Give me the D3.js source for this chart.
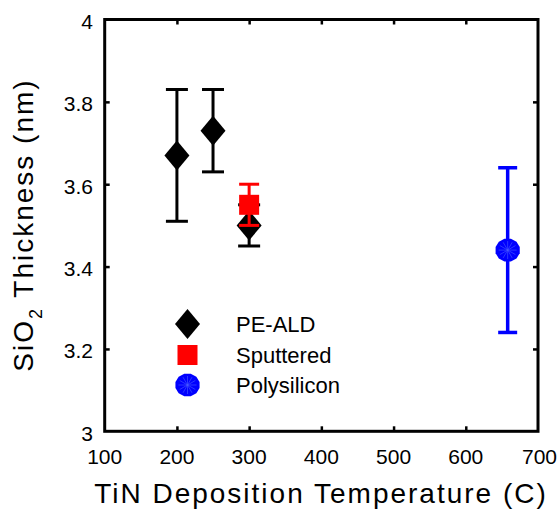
<!DOCTYPE html>
<html>
<head>
<meta charset="utf-8">
<script src="https://cdn.jsdelivr.net/npm/d3@7"></script>
<style>
    body { margin: 0; background: #fff; }
    svg { display: block; font-family: "Liberation Sans", Arial, sans-serif; }
</style>
</head>
<body>
<div id="chart"></div>
<script>
"use strict";

// PE-ALD TiN
var peTemp = [200, 250, 300];
var peThick = [3.67, 3.73, 3.50];
var peLow = [3.51, 3.63, 3.45];
var peHigh = [3.83, 3.83, 3.55];
// sputtered TiN
var spTemp = [300];
var spThick = [3.55];
var spLow = [3.50];
var spHigh = [3.60];
// polysilicon gate
var psTemp = [658];
var psThick = [3.44];
var psLow = [3.24];
var psHigh = [3.64];

var xTicks = [100, 200, 300, 400, 500, 600, 700];
var yTicks = [3, 3.2, 3.4, 3.6, 3.8, 4];
var legendLabels = ["PE-ALD", "Sputtered", "Polysilicon"];

var W = 558, H = 509;
var plot = {left: 104.7, right: 538, top: 19.5, bottom: 431.3};

var svg = d3.select("#chart").append("svg")
    .attr("width", W).attr("height", H);

var x = d3.scaleLinear().domain([100, 700]).range([plot.left, plot.right]);
var y = d3.scaleLinear().domain([3, 4]).range([plot.bottom, plot.top]);

function pts(t, v, lo, hi) {
    return t.map(function (d, i) {
        return {t: d, v: v[i], lo: lo[i], hi: hi[i]};
    });
}

var series = [
    {name: legendLabels[0], color: "#000000", shape: "diamond", cap: 22, sw: 3,
     data: pts(peTemp, peThick, peLow, peHigh)},
    {name: legendLabels[1], color: "#ff0000", shape: "square", cap: 20, sw: 3,
     data: pts(spTemp, spThick, spLow, spHigh)},
    {name: legendLabels[2], color: "#0000ff", shape: "circle", cap: 19, sw: 3.5,
     data: pts(psTemp, psThick, psLow, psHigh)}
];

// inner ticks, all four sides
var inner = function (axis) { return axis.tickSizeInner(-5).tickSizeOuter(0).tickPadding(0); };
var midX = xTicks.slice(1, -1), midY = yTicks.slice(1, -1);

var gx = svg.append("g").attr("transform", "translate(0," + plot.bottom + ")")
    .call(inner(d3.axisBottom(x).tickValues(midX).tickFormat("")));
var gx2 = svg.append("g").attr("transform", "translate(0," + plot.top + ")")
    .call(inner(d3.axisTop(x).tickValues(midX).tickFormat("")));
var gy = svg.append("g").attr("transform", "translate(" + plot.left + ",0)")
    .call(inner(d3.axisLeft(y).tickValues(midY).tickFormat("")));
var gy2 = svg.append("g").attr("transform", "translate(" + plot.right + ",0)")
    .call(inner(d3.axisRight(y).tickValues(midY).tickFormat("")));
[gx, gx2, gy, gy2].forEach(function (g) {
    g.select(".domain").remove();
    g.selectAll(".tick line").attr("stroke", "#000").attr("stroke-width", 2.5);
});

svg.append("rect")
    .attr("x", plot.left).attr("y", plot.top)
    .attr("width", plot.right - plot.left)
    .attr("height", plot.bottom - plot.top)
    .attr("fill", "none").attr("stroke", "#000").attr("stroke-width", 3);

// tick labels (last one pushed right, kept inside the page)
var lastX = xTicks[xTicks.length - 1];
svg.append("g").selectAll("text").data(xTicks).enter().append("text")
    .attr("x", function (d) { return d === lastX ? W - 1 : x(d); })
    .attr("y", 464)
    .attr("text-anchor", function (d) { return d === lastX ? "end" : "middle"; })
    .attr("font-size", 21)
    .text(function (d) { return String(d); });

svg.append("g").selectAll("text").data(yTicks).enter().append("text")
    .attr("x", 93)
    .attr("y", function (d) { return y(d); })
    .attr("dy", "0.45em")
    .attr("text-anchor", "end")
    .attr("font-size", 21)
    .text(function (d) { return String(d); });

// axis titles
svg.append("text")
    .attr("x", 321).attr("y", 503)
    .attr("text-anchor", "middle")
    .attr("font-size", 28)
    .attr("letter-spacing", 2)
    .text("TiN Deposition Temperature (C)");

var yt = svg.append("text")
    .attr("transform", "translate(33,225) rotate(-90)")
    .attr("text-anchor", "middle")
    .attr("font-size", 28)
    .attr("letter-spacing", 2);
yt.append("tspan").text("SiO");
yt.append("tspan").attr("font-size", 18).attr("dy", 9).text("2");
yt.append("tspan").attr("dy", -9).text(" Thickness (nm)");

// markers
function drawMarker(g, s, cx, cy) {
    if (s.shape === "diamond") {
        g.append("path")
            .attr("d", "M" + cx + "," + (cy - 15) + "L" + (cx + 12.5) + "," + cy +
                  "L" + cx + "," + (cy + 15) + "L" + (cx - 12.5) + "," + cy + "Z")
            .attr("fill", s.color);
    } else if (s.shape === "square") {
        g.append("rect")
            .attr("x", cx - 10).attr("y", cy - 10)
            .attr("width", 20).attr("height", 20)
            .attr("fill", s.color);
    } else {
        var n = 12, r = 12.5, poly = d3.range(n).map(function (k) {
            var a = (k + 0.5) * 2 * Math.PI / n;
            return [cx + r * Math.cos(a), cy + r * Math.sin(a) * 0.94];
        });
        g.append("polygon").attr("points", poly.join(" ")).attr("fill", s.color);
        d3.range(6).forEach(function (k) {
            var a = k * Math.PI / 6;
            g.append("line")
                .attr("x1", cx - 9 * Math.cos(a)).attr("y1", cy - 9 * Math.sin(a))
                .attr("x2", cx + 9 * Math.cos(a)).attr("y2", cy + 9 * Math.sin(a))
                .attr("stroke", "#4a5cff").attr("stroke-width", 0.6);
        });
    }
}

series.forEach(function (s) {
    var g = svg.append("g");
    s.data.forEach(function (d) {
        var cx = x(d.t);
        g.append("line")
            .attr("x1", cx).attr("x2", cx)
            .attr("y1", y(d.lo)).attr("y2", y(d.hi))
            .attr("stroke", s.color).attr("stroke-width", s.sw);
        [d.lo, d.hi].forEach(function (v) {
            g.append("line")
                .attr("x1", cx - s.cap / 2).attr("x2", cx + s.cap / 2)
                .attr("y1", y(v)).attr("y2", y(v))
                .attr("stroke", s.color).attr("stroke-width", s.sw);
        });
    });
    s.data.forEach(function (d) { drawMarker(g, s, x(d.t), y(d.v)); });
});

// legend
var legendY = [324, 355, 385];
series.forEach(function (s, i) {
    var g = svg.append("g");
    drawMarker(g, s, 187.5, legendY[i]);
    g.append("text")
        .attr("x", 236).attr("y", legendY[i] + 8)
        .attr("font-size", 22)
        .text(s.name);
});
</script>
</body>
</html>
